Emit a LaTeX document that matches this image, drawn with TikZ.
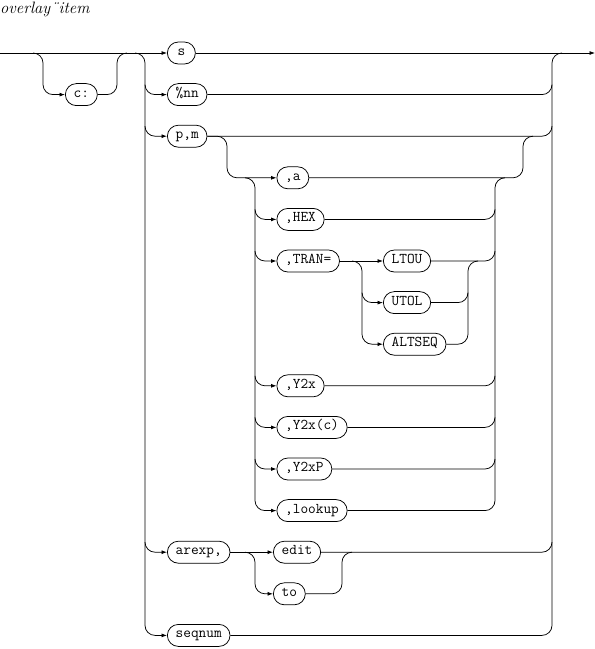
\documentclass[tikz,border=0pt]{standalone}
\usepackage{tikz}
\usetikzlibrary{arrows.meta}
\tikzset{
  term/.style={rectangle, rounded corners=11pt, draw, line width=0.75pt, anchor=west,
               minimum height=22pt, minimum width=28pt, inner xsep=8.3pt, inner ysep=0pt,
               text height=0.72em, text depth=0.22em, font=\fontsize{14.9}{17}\selectfont\ttfamily},
  rail/.style={line width=0.75pt, rounded corners=10pt},
  arr/.style={rail, -{Latex[length=5.5pt, width=4pt]}},
}
\newcommand\rw[1]{-53-41.6*#1}

\begin{document}
\begin{tikzpicture}[x=1pt, y=1pt]
  \useasboundingbox (0,0) rectangle (595,-649);
  \node[anchor=base west, inner sep=0pt, font=\fontsize{16.5}{19}\selectfont\itshape] (title) at (0,-13.5) {overlay¨item};
  % first level
  \node[term] (c)     at (65,\rw{1})   {c:};
  \node[term] (s)     at (167,\rw{0})  {s};
  \node[term] (nn)    at (167,\rw{1})  {\%nn};
  \node[term] (pm)    at (167,\rw{2})  {p,m};
  \node[term] (arexp) at (167,\rw{12}) {arexp,};
  \node[term] (seq)   at (167,\rw{14}) {seqnum};
  % options after p,m
  \node[term] (a)    at (276.5,\rw{3})  {,a};
  \node[term] (hex)  at (276.5,\rw{4})  {,HEX};
  \node[term] (tran) at (276.5,\rw{5})  {,TRAN=};
  \node[term] (ltou) at (383,\rw{5})    {LTOU};
  \node[term] (utol) at (383,\rw{6})    {UTOL};
  \node[term] (alt)  at (383,\rw{7})    {ALTSEQ};
  \node[term] (yx)   at (276.5,\rw{8})  {,Y2x};
  \node[term] (yxc)  at (276.5,\rw{9})  {,Y2x(c)};
  \node[term] (yxp)  at (276.5,\rw{10}) {,Y2xP};
  \node[term] (look) at (276.5,\rw{11}) {,lookup};
  % after arexp,
  \node[term] (edit) at (273,\rw{12}) {edit};
  \node[term] (to)   at (273,\rw{13}) {to};

  % main line, c: bypass
  \draw[arr] (0,\rw{0}) -- (s.west);
  \draw[arr] (s.east) -- (595,\rw{0});
  \draw[arr] (33,\rw{0}) -- (43,\rw{0}) -- (43,\rw{1}) -- (c.west);
  \draw[rail] (c.east) -- (117,\rw{1}) -- (117,\rw{0}) -- (127,\rw{0});
  \draw[arr] (135,\rw{0}) -- (145,\rw{0}) |- (seq.west);
  \foreach \n/\k in {nn/1,pm/2,arexp/12} \draw[arr] (145,\rw{\k}+10) |- (\n.west);
  \draw[rail] (seq.east) -| (552,\rw{0}) -- (562,\rw{0});
  \foreach \n/\k in {nn/1,pm/2,edit/12} \draw[rail] (\n.east) -| (552,\rw{\k}+10);
  % p,m options
  \draw[arr] (pm.east) -| (227,\rw{3}) -- (a.west);
  \draw[arr] (245,\rw{3}) -- (255,\rw{3}) |- (look.west);
  \foreach \n/\k in {hex/4,tran/5,yx/8,yxc/9,yxp/10} \draw[arr] (255,\rw{\k}+10) |- (\n.west);
  \draw[rail] (a.east) -| (523,\rw{2}) -- (533,\rw{2});
  \draw[rail] (look.east) -| (495,\rw{3}) -- (505,\rw{3});
  \foreach \n/\k in {hex/4,ltou/5,yx/8,yxc/9,yxp/10} \draw[rail] (\n.east) -| (495,\rw{\k}+10);
  % ,TRAN= choice
  \draw[arr] (tran.east) -- (ltou.west);
  \draw[arr] (352,\rw{5}) -- (362,\rw{5}) |- (alt.west);
  \draw[arr] (362,\rw{6}+10) |- (utol.west);
  \draw[rail] (alt.east) -| (468,\rw{5}) -- (478,\rw{5});
  \draw[rail] (utol.east) -| (468,\rw{6}+10);
  % arexp, choice
  \draw[arr] (arexp.east) -- (edit.west);
  \draw[arr] (245,\rw{12}) -- (255,\rw{12}) |- (to.west);
  \draw[rail] (to.east) -| (342,\rw{12}) -- (352,\rw{12});
\end{tikzpicture}
\end{document}
